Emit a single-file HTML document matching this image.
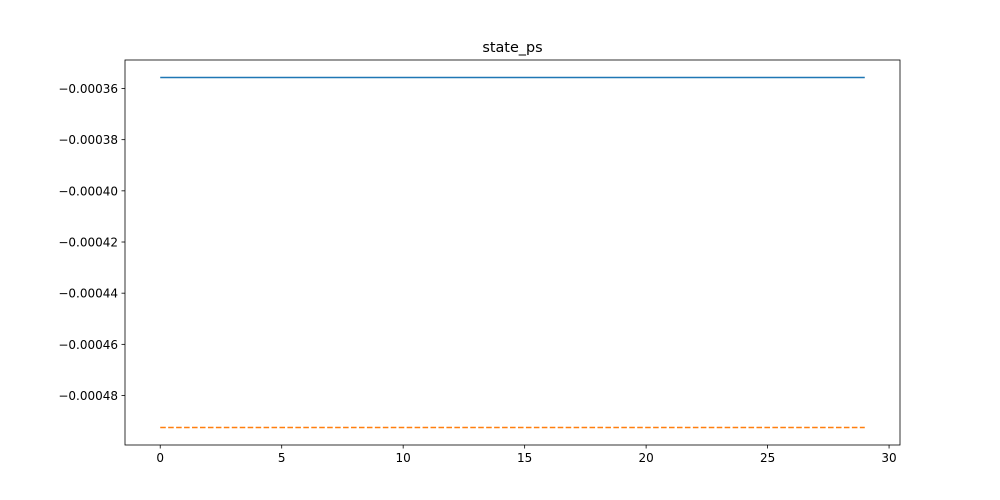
<!DOCTYPE html>
<html><head><meta charset="utf-8"><style>body{margin:0;background:#fff}svg{display:block}text{font-family:"DejaVu Sans","Liberation Sans",sans-serif}</style></head>
<body>
<svg id="chart" width="1000" height="500" xmlns="http://www.w3.org/2000/svg"></svg>
<script>
const xs = Array.from({length:30},(_, i)=>i);
const seriesA = [-0.0003557,-0.0003557,-0.0003557,-0.0003557,-0.0003557,-0.0003557,-0.0003557,-0.0003557,-0.0003557,-0.0003557,-0.0003557,-0.0003557,-0.0003557,-0.0003557,-0.0003557,-0.0003557,-0.0003557,-0.0003557,-0.0003557,-0.0003557,-0.0003557,-0.0003557,-0.0003557,-0.0003557,-0.0003557,-0.0003557,-0.0003557,-0.0003557,-0.0003557,-0.0003557];
const seriesB = [-0.0004925,-0.0004925,-0.0004925,-0.0004925,-0.0004925,-0.0004925,-0.0004925,-0.0004925,-0.0004925,-0.0004925,-0.0004925,-0.0004925,-0.0004925,-0.0004925,-0.0004925,-0.0004925,-0.0004925,-0.0004925,-0.0004925,-0.0004925,-0.0004925,-0.0004925,-0.0004925,-0.0004925,-0.0004925,-0.0004925,-0.0004925,-0.0004925,-0.0004925,-0.0004925];
const xTicks = [0,5,10,15,20,25,30];
const yTicks = [-0.00036,-0.00038,-0.00040,-0.00042,-0.00044,-0.00046,-0.00048];
const yTickLabels = ["\u22120.00036","\u22120.00038","\u22120.00040","\u22120.00042","\u22120.00044","\u22120.00046","\u22120.00048"];

const L=125,R=900,T=60,B=445;
const NS="http://www.w3.org/2000/svg";
const svg=document.getElementById('chart');
const xmin=-1.45,xmax=30.45;
const allY=seriesA.concat(seriesB);
const dmin=Math.min(...allY),dmax=Math.max(...allY),pad=(dmax-dmin)*0.05;
const ymin=dmin-pad,ymax=dmax+pad;
const sx=v=>L+(v-xmin)/(xmax-xmin)*(R-L);
const sy=v=>B-(v-ymin)/(ymax-ymin)*(B-T);
function mk(tag,attrs,txt){const e=document.createElementNS(NS,tag);for(const k in attrs)e.setAttribute(k,attrs[k]);if(txt!==undefined)e.textContent=txt;svg.appendChild(e);return e;}

const t=mk('text',{x:(L+R)/2,y:52,'text-anchor':'middle','font-size':'14.4'},'state_ps');



xTicks.forEach(v=>{
  const x=sx(v);
  const l=mk('line',{x1:x,x2:x,y1:B,y2:B+3.5,stroke:'#000','stroke-width':0.8});
  
  
  const tx=mk('text',{x:x,y:B+17,'text-anchor':'middle','font-size':'12'},String(v));
  
  
});
yTicks.forEach((v,i)=>{
  const y=sy(v);
  const l=mk('line',{x1:L-3.5,x2:L,y1:y,y2:y,stroke:'#000','stroke-width':0.8});
  
  
  const tx=mk('text',{x:L-7,y:y+4.5,'text-anchor':'end','font-size':'12'},yTickLabels[i]);
  
  
});

const pA=mk('polyline',{points:xs.map((x,i)=>sx(x)+','+sy(seriesA[i])).join(' '),fill:'none',stroke:'#1f77b4','stroke-width':1.5});


const pB=mk('polyline',{points:xs.map((x,i)=>sx(x)+','+sy(seriesB[i])).join(' '),fill:'none',stroke:'#ff7f0e','stroke-width':1.5,'stroke-dasharray':'5.55,2.4'});



const f=mk('rect',{x:L,y:T,width:R-L,height:B-T,fill:'none',stroke:'#000','stroke-width':0.8});


</script>
</body></html>
